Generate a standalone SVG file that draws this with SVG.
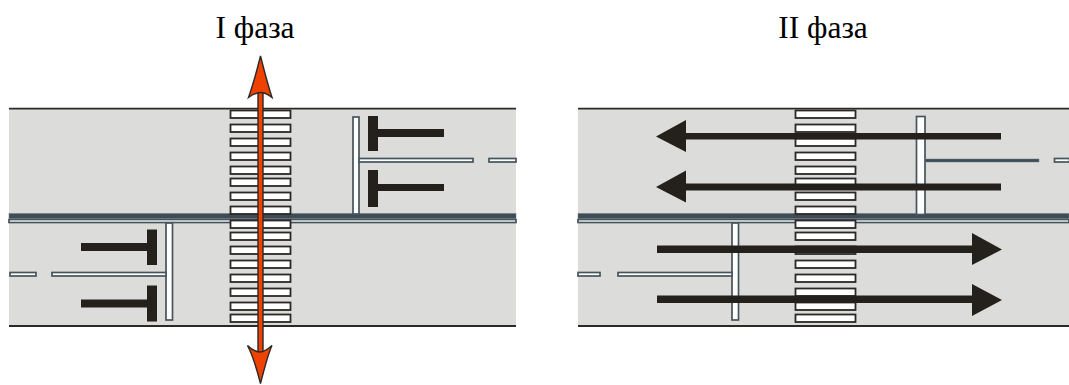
<svg xmlns="http://www.w3.org/2000/svg" width="1069" height="385" viewBox="0 0 1069 385">
<defs>
<style>
.road{fill:#dcdcdb}
.edge{stroke:#2b2a27;stroke-width:1.8;fill:none}
.dark{fill:#3f4c55;stroke:#6b7880;stroke-width:.5}
.mark{fill:#fff;stroke:#46545c;stroke-width:1.7}
.stripe{fill:#fff;stroke:#2b2925;stroke-width:1.8}
.blk{fill:#24211c}
.red{fill:#ef4200;stroke:#2b2925;stroke-width:1.4;stroke-linejoin:miter}
.title{font-family:"Liberation Serif","Times New Roman",serif;font-size:31.500px;fill:#000;text-anchor:middle}
</style>
<g id="stripes">
<rect class="stripe" x="0" y="110.500" width="60" height="7.500"/>
<rect class="stripe" x="0" y="124.500" width="60" height="7.500"/>
<rect class="stripe" x="0" y="138.500" width="60" height="7.500"/>
<rect class="stripe" x="0" y="152.500" width="60" height="7.500"/>
<rect class="stripe" x="0" y="166.500" width="60" height="7.500"/>
<rect class="stripe" x="0" y="178.500" width="60" height="7.500"/>
<rect class="stripe" x="0" y="192.500" width="60" height="7.500"/>
<rect class="stripe" x="0" y="206.500" width="60" height="7.500"/>
<rect class="stripe" x="0" y="220.500" width="60" height="7.500"/>
<rect class="stripe" x="0" y="232.500" width="60" height="7.500"/>
<rect class="stripe" x="0" y="246.500" width="60" height="7.500"/>
<rect class="stripe" x="0" y="260.500" width="60" height="7.500"/>
<rect class="stripe" x="0" y="274.500" width="60" height="7.500"/>
<rect class="stripe" x="0" y="288.500" width="60" height="7.500"/>
<rect class="stripe" x="0" y="302.500" width="60" height="7.500"/>
<rect class="stripe" x="0" y="314.500" width="60" height="7.500"/>
</g>
</defs>
<text class="title" x="255" y="37.500">I фаза</text>
<text class="title" x="823" y="37.500">II фаза</text>
<g id="road-left">
<rect class="road" x="9" y="109" width="507" height="217"/>
<path class="edge" d="M9 108.700H516M9 326H516"/>
<rect class="dark" x="9" y="213.500" width="507" height="5"/>
<rect class="mark" x="9" y="219.500" width="507" height="3"/>
<rect class="mark" x="353" y="117" width="6" height="97"/>
<rect class="mark" x="359" y="158.500" width="114" height="3.500"/>
<rect class="mark" x="489" y="158.500" width="27" height="3.500"/>
<rect class="mark" x="166" y="223" width="6.500" height="97"/>
<rect class="mark" x="52" y="272.500" width="114" height="3.500"/>
<rect class="mark" x="10" y="272.500" width="26" height="3.500"/>
</g>
<g id="crossing-left"><use href="#stripes" x="230.500"/></g>
<g id="stop-left">
<path class="blk" d="M368 116h10v13h66v8h-66v14h-10z"/>
<path class="blk" d="M368 170h10v14h66v7h-66v16h-10z"/>
<path class="blk" d="M157 229.500h-10v13.500h-66v8h66v14h10z"/>
<path class="blk" d="M157 285.500h-10v14h-66v8h66v14h10z"/>
</g>
<g id="connector-left">
<path class="red" d="M258 92V373H263V92Z"/>
<path class="red" d="M260.500 56C256 74 253 85 248.500 97.500C252 95 256 92.500 260.500 92.500C265 92.500 269 95 272 97.500C268 85 265 74 260.500 56Z"/>
<path class="red" d="M260.500 383.500C256 366 252 354 247.500 345.500C251 349 256 352 260.500 352C265 352 268 349 272 345.500C268 354 265 366 260.500 383.500Z"/>
</g>
<g id="road-right">
<rect class="road" x="578" y="109" width="491" height="217"/>
<path class="edge" d="M578 108.700H1069M578 326H1069"/>
<rect class="dark" x="578" y="213.500" width="491" height="5"/>
<rect class="mark" x="578" y="219.500" width="491" height="3"/>
<rect class="mark" x="916.500" y="116.500" width="8.500" height="98"/>
<rect class="dark" x="925" y="159" width="114" height="3"/>
<rect class="mark" x="1054.500" y="158.500" width="15" height="3.500"/>
<rect class="mark" x="732" y="223" width="6.500" height="97"/>
<rect class="mark" x="618" y="272.500" width="114" height="3.500"/>
<rect class="mark" x="578" y="272.500" width="22" height="3.500"/>
</g>
<g id="crossing-right"><use href="#stripes" x="795.500"/></g>
<g id="connector-right">
<path class="blk" d="M1001 133H686V120L656 136.500L686 152V139.500H1001z"/>
<path class="blk" d="M1001 183.500H686V170.500L656 187L686 202.500V190.500H1001z"/>
<path class="blk" d="M657 245.500H972V233L1002 249.500L972 265V253H657z"/>
<path class="blk" d="M657 295.500H972V284L1002 300L972 316V303H657z"/>
</g>
</svg>
